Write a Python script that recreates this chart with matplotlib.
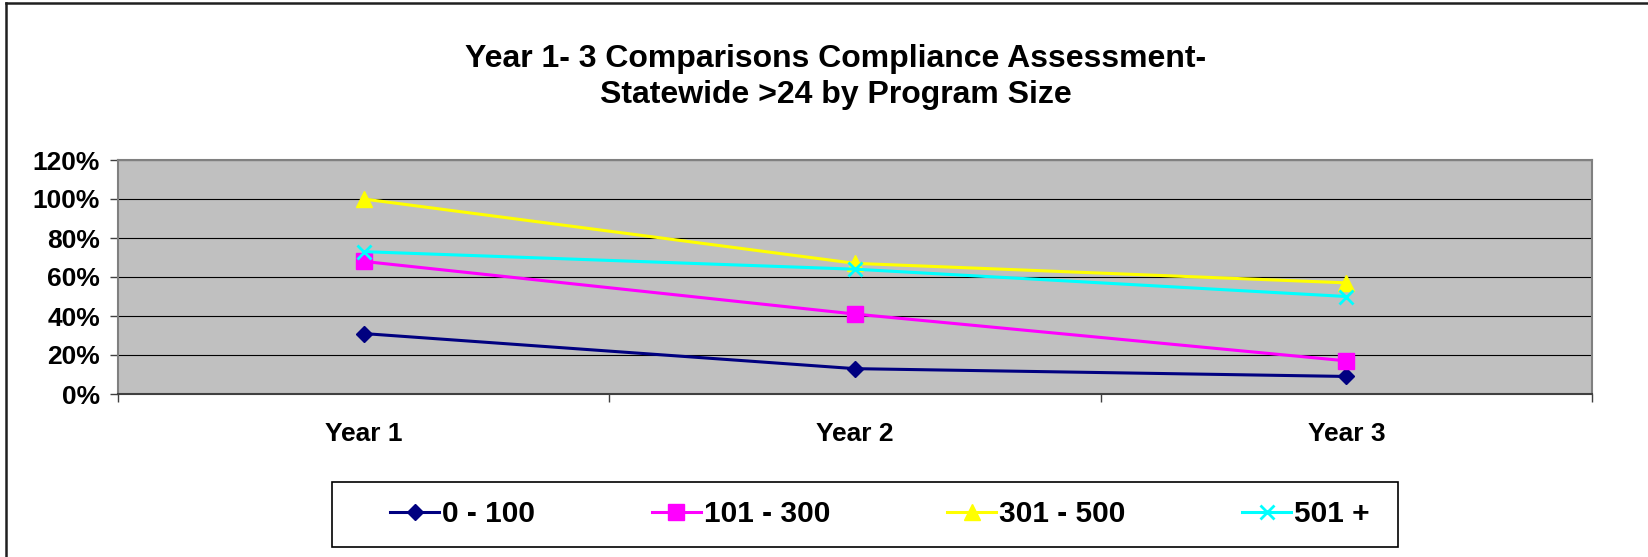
import matplotlib.pyplot as plt
from matplotlib.lines import Line2D
from matplotlib.patches import Rectangle
from matplotlib.ticker import PercentFormatter, FixedLocator

# valores (em %)
anos = ['Year 1', 'Year 2', 'Year 3']
serie_0_100 = [31, 13, 9]
serie_101_300 = [68, 41, 17]
serie_301_500 = [100, 67, 57]
serie_501_mais = [73, 64, 50]
rotulos = ['0 - 100', '101 - 300', '301 - 500', '501 +']

plt.rcParams['font.family'] = ['Liberation Sans', 'DejaVu Sans']
plt.rcParams['font.weight'] = 'bold'

W, H = 1649, 557
fig = plt.figure(figsize=(W / 100, H / 100), dpi=100)
fig.patch.set_facecolor('white')

# area do grafico (pixels convertidos para fracao da figura)
x0, x1, y0, y1 = 118, 1592, 160, 394
ax = fig.add_axes([x0 / W, 1 - y1 / H, (x1 - x0) / W, (y1 - y0) / H])
ax.set_facecolor('#C0C0C0')

x = list(range(len(anos)))
ax.plot(x, serie_0_100, color='#000080', lw=2.2, marker='D', ms=8,
        mec='#000080', label=rotulos[0], zorder=3)
ax.plot(x, serie_101_300, color='#FF00FF', lw=2.2, marker='s', ms=11,
        mec='#FF00FF', label=rotulos[1], zorder=3)
ax.plot(x, serie_301_500, color='#FFFF00', lw=2.2, marker='^', ms=11,
        mec='#FFFF00', label=rotulos[2], zorder=3)
ax.plot(x, serie_501_mais, color='#00FFFF', lw=2.2, marker='x', ms=10,
        mew=2, label=rotulos[3], zorder=3)

ax.set_xlim(-0.5, len(anos) - 0.5)
ax.set_ylim(0, 120)
ax.yaxis.set_major_locator(FixedLocator([0, 20, 40, 60, 80, 100, 120]))
ax.yaxis.set_major_formatter(PercentFormatter(100, decimals=0))
ax.grid(axis='y', color='black', lw=0.8)
ax.set_axisbelow(True)

# ticks nas divisas, rotulos no centro das categorias
ax.set_xticks([i - 0.5 for i in range(len(anos) + 1)])
ax.set_xticklabels([])
ax.set_xticks(x, minor=True)
ax.set_xticklabels(anos, minor=True)
ax.tick_params(axis='x', which='major', direction='out', length=6, width=1, color='#404040')
ax.tick_params(axis='x', which='minor', length=0, pad=20, labelsize=19)
ax.tick_params(axis='y', direction='out', length=6, width=1, color='#404040',
               pad=7, labelsize=19)

for lado in ['left', 'right', 'top']:
    ax.spines[lado].set_color('#808080')
    ax.spines[lado].set_linewidth(1.5)
ax.spines['bottom'].set_color('#404040')
ax.spines['bottom'].set_linewidth(1.5)

fig.text(836 / W, 1 - 77 / H,
         'Year 1- 3 Comparisons Compliance Assessment-\nStatewide >24 by Program Size',
         ha='center', va='center', fontsize=23, fontweight='bold', linespacing=1.25)

# moldura da legenda
fig.patches.append(Rectangle((332 / W, 1 - 547 / H), (1398 - 332) / W, (547 - 482) / H,
                             transform=fig.transFigure, fill=False, ec='black', lw=1.2))
fig.legend(loc='center', bbox_to_anchor=(880 / W, 1 - 514.5 / H), ncol=4,
           frameon=False, fontsize=21.5, handlelength=1.65, handletextpad=0.1,
           columnspacing=3.9)

# bordas externas do grafico (so esquerda e topo aparecem)
fig.add_artist(Line2D([6 / W, 6 / W], [0, 1 - 3 / H], transform=fig.transFigure,
                      color='#202020', lw=1.8))
fig.add_artist(Line2D([6 / W, 1], [1 - 3 / H, 1 - 3 / H], transform=fig.transFigure,
                      color='#202020', lw=1.8))

fig.savefig('out.png', dpi=100)
